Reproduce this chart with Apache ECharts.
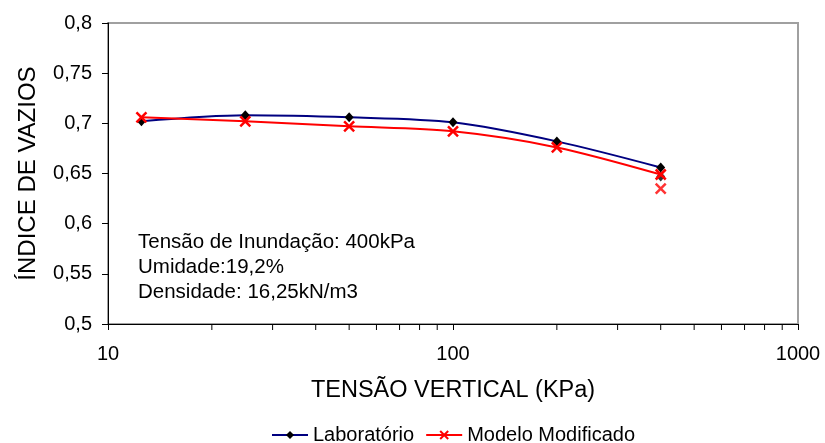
<!DOCTYPE html>
<html>
<head>
<meta charset="utf-8">
<script src="https://cdn.jsdelivr.net/npm/echarts@6/dist/echarts.min.js"></script>
<style>
  html, body { margin: 0; padding: 0; background: #fff; }
  #chart { width: 825px; height: 443px; }
</style>
</head>
<body>
<div id="chart"></div>
<script>
// Vertical stress steps (kPa)
const tensoes = [12.5, 25, 50, 100, 200, 400];
// Void ratio — laboratory test
const laboratorio = [0.702, 0.708, 0.706, 0.701, 0.682, 0.656];
// Void ratio — modified model
const modelo = [0.706, 0.702, 0.697, 0.692, 0.676, 0.649];
// Points after inundation at 400 kPa
const inundacaoTensao = 400;
const laboratorioInundado = 0.647;
const modeloInundado = 0.635;
// Minor log ticks along the x axis
const minorTicks = [20, 30, 40, 50, 60, 70, 80, 90, 200, 300, 400, 500, 600, 700, 800, 900];
const yTicks = { min: 0.5, max: 0.8, interval: 0.05 };
const infoLines = ['Tensão de Inundação: 400kPa', 'Umidade:19,2%', 'Densidade: 16,25kN/m3'];

const font = 'Liberation Sans, Arial, sans-serif';
const pairs = (xs, ys) => xs.map((x, i) => [x, ys[i]]);
const crossPath = 'path://M0,0L10,10M10,0L0,10';

const chart = echarts.init(document.getElementById('chart'));
chart.setOption({
  animation: false,
  backgroundColor: '#fff',
  textStyle: { fontFamily: font },
  grid: {
    left: 108, right: 27, top: 23, bottom: 119,
    show: true, borderColor: '#a0a0a0', borderWidth: 2
  },
  legend: {
    top: 420,
    left: 266,
    itemWidth: 36,
    itemHeight: 10,
    itemGap: 11,
    textStyle: { fontSize: 20, color: '#000', fontFamily: font },
    data: ['Laboratório', 'Modelo Modificado']
  },
  xAxis: {
    type: 'log',
    logBase: 10,
    min: 10,
    max: 1000,
    name: 'TENSÃO VERTICAL (KPa)',
    nameLocation: 'middle',
    nameGap: 55,
    nameTextStyle: { fontSize: 23.5, color: '#000', fontFamily: font },
    axisLine: { show: true, onZero: false, lineStyle: { color: '#000', width: 1 } },
    axisTick: { show: true, length: 6, lineStyle: { color: '#000' } },
    axisLabel: {
      fontSize: 20, color: '#000', margin: 20, fontFamily: font,
      formatter: v => String(v)
    },
    splitLine: { show: false }
  },
  yAxis: {
    type: 'value',
    min: yTicks.min,
    max: yTicks.max,
    interval: yTicks.interval,
    name: 'ÍNDICE DE VAZIOS',
    nameLocation: 'middle',
    nameGap: 68,
    nameRotate: 90,
    nameTextStyle: { fontSize: 24, color: '#000', fontFamily: font },
    axisLine: { show: true, lineStyle: { color: '#000', width: 1 } },
    axisTick: { show: true, length: 6, lineStyle: { color: '#000' } },
    axisLabel: {
      fontSize: 20, color: '#000', margin: 16, fontFamily: font,
      formatter: v => String(+v.toFixed(2)).replace('.', ',')
    },
    splitLine: { show: false }
  },
  series: [
    {
      name: 'Laboratório',
      type: 'line',
      smooth: 0.3,
      data: pairs(tensoes, laboratorio),
      symbol: 'diamond',
      symbolSize: [9, 10],
      itemStyle: { color: '#000' },
      lineStyle: { color: '#000080', width: 2 },
      z: 3
    },
    {
      name: 'Laboratório',
      type: 'scatter',
      data: [[inundacaoTensao, laboratorioInundado]],
      symbol: 'diamond',
      symbolSize: [9, 10],
      itemStyle: { color: '#000' },
      z: 3
    },
    {
      name: 'Modelo Modificado',
      type: 'line',
      smooth: 0.3,
      data: pairs(tensoes, modelo),
      symbol: crossPath,
      symbolSize: 10,
      itemStyle: { color: 'rgba(0,0,0,0)', borderColor: '#ff0000', borderWidth: 2.5 },
      lineStyle: { color: '#ff0000', width: 2 },
      z: 4
    },
    {
      name: 'Modelo Modificado',
      type: 'scatter',
      data: [[inundacaoTensao, modeloInundado]],
      symbol: crossPath,
      symbolSize: 10,
      itemStyle: { color: 'rgba(0,0,0,0)', borderColor: '#ff0000', borderWidth: 2.5 },
      z: 4
    },
    {
      // minor ticks of the logarithmic axis, placed through the axis scale
      type: 'custom',
      silent: true,
      data: minorTicks.map(v => [v, yTicks.min]),
      renderItem: function (params, api) {
        const p = api.coord([api.value(0), api.value(1)]);
        return {
          type: 'line',
          shape: { x1: p[0], y1: p[1], x2: p[0], y2: p[1] + 6 },
          style: { stroke: '#000', lineWidth: 1 }
        };
      },
      z: 5
    }
  ],
  graphic: infoLines.map((t, i) => ({
    type: 'text',
    left: 138,
    top: 232 + i * 25,
    style: { text: t, fontSize: 20.5, fill: '#000', fontFamily: font }
  }))
});
</script>
</body>
</html>
